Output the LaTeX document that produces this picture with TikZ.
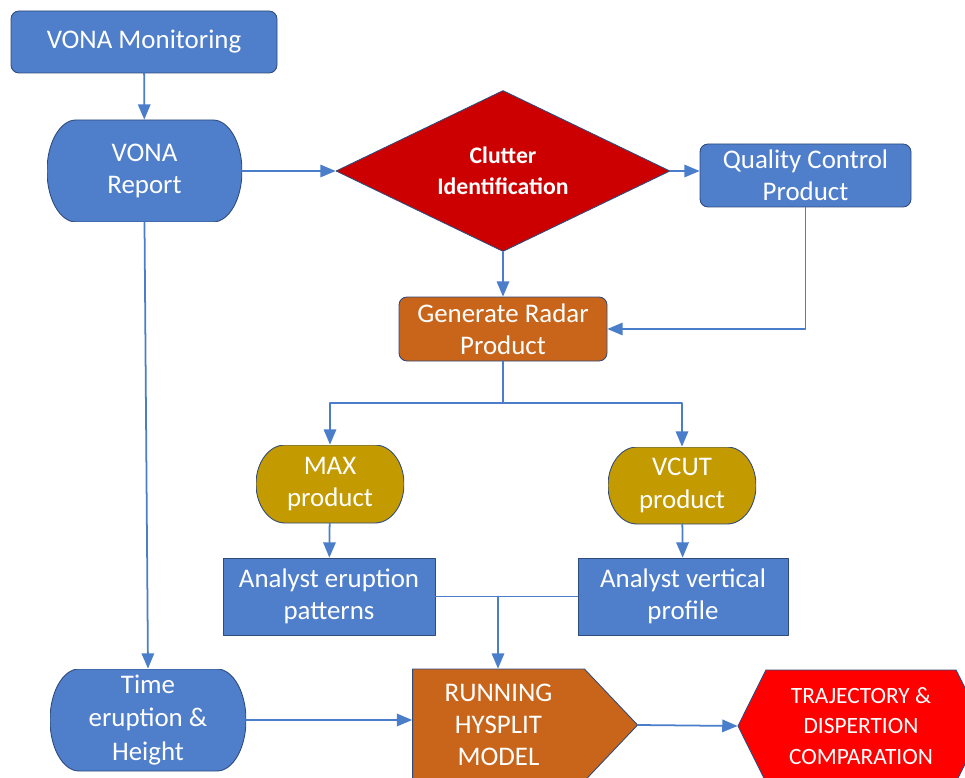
\documentclass[tikz,border=0pt]{standalone}
\usepackage{fontspec}
\setmainfont{Carlito}
\usetikzlibrary{arrows,calc,shapes.geometric,shapes.symbols}
\definecolor{boxblue}{HTML}{4F7ECB}
\definecolor{boxorange}{HTML}{C8651A}
\definecolor{boxgold}{HTML}{C39A00}
\definecolor{diamred}{HTML}{CC0000}
\definecolor{hexred}{HTML}{FF0000}
\definecolor{edgeline}{HTML}{2F4B7C}
\definecolor{flowline}{HTML}{4A7DCA}
\newcommand{\boxfont}{\fontsize{15.3}{18.4}\selectfont}
\tikzset{
  shapebase/.style={draw=edgeline, line width=0.5pt, text=white, align=center, font=\boxfont, inner sep=0pt},
  roundbox/.style={shapebase, rectangle, rounded corners=0.16cm, fill=#1},
  plainbox/.style={shapebase, rectangle, fill=#1},
  % rectangle with elliptical ends, drawn inside the node path
  pillbox/.style={shapebase, rectangle, draw=none, path picture={
      \path (path picture bounding box.north west) coordinate (nw)
            (path picture bounding box.north east) coordinate (ne)
            (path picture bounding box.south east) coordinate (se)
            (path picture bounding box.south west) coordinate (sw)
            (path picture bounding box.west) coordinate (w)
            (path picture bounding box.east) coordinate (e);
      \draw[draw=edgeline, line width=0.5pt, fill=#1]
        ($(nw)+(0.58,0)$) -- ($(ne)+(-0.58,0)$)
        .. controls ($(ne)+(-0.26,0)$) and ($(e)!0.55!(ne)$) .. (e)
        .. controls ($(e)!0.55!(se)$) and ($(se)+(-0.26,0)$) .. ($(se)+(-0.58,0)$)
        -- ($(sw)+(0.58,0)$)
        .. controls ($(sw)+(0.26,0)$) and ($(w)!0.55!(sw)$) .. (w)
        .. controls ($(w)!0.55!(nw)$) and ($(nw)+(0.26,0)$) .. cycle;
    }},
  flow/.style={->, draw=flowline, line width=1pt}
}

\begin{document}
\begin{tikzpicture}[line cap=round,line join=round,>=triangle 45,x=1cm,y=1cm]
    \useasboundingbox (0,0) rectangle (19.3,-15.56);
    \clip (0,0) rectangle (19.3,-15.56);

    % Nodes
    \node[roundbox=boxblue, minimum width=5.32cm, minimum height=1.24cm] (mon) at (2.88,-0.84) {VONA Monitoring};
    \node[pillbox=boxblue, minimum width=3.9cm, minimum height=2.04cm] (rep) at (2.89,-3.42) {VONA\\Report};
    \node[shapebase, diamond, aspect=2, fill=diamred, minimum width=6.68cm, minimum height=3.22cm,
          font=\fontsize{13.5}{17.5}\selectfont\bfseries] (clut) at (10.06,-3.42) {Clutter\\Identification};
    \node[roundbox=boxblue, minimum width=4.22cm, minimum height=1.26cm] (qc) at (16.11,-3.51) {Quality Control\\Product};
    \node[roundbox=boxorange, minimum width=4.16cm, minimum height=1.28cm] (grp) at (10.06,-6.58) {Generate Radar\\Product};
    \node[pillbox=boxgold, minimum width=2.96cm, minimum height=1.56cm] (max) at (6.6,-9.68) {MAX\\product};
    \node[pillbox=boxgold, minimum width=2.96cm, minimum height=1.54cm] (vcut) at (13.64,-9.71) {VCUT\\product};
    \node[plainbox=boxblue, minimum width=4.24cm, minimum height=1.54cm] (aep) at (6.58,-11.93) {Analyst eruption\\patterns};
    \node[plainbox=boxblue, minimum width=4.2cm, minimum height=1.54cm] (avp) at (13.66,-11.93) {Analyst vertical\\profile};
    \node[pillbox=boxblue, minimum width=3.92cm, minimum height=2.04cm, font=\fontsize{15.3}{19}\selectfont] (time) at (2.96,-14.4) {Time\\eruption \&\\Height};
    \node[shapebase, signal, signal to=east, signal pointer angle=93, fill=boxorange,
          minimum width=4.5cm, minimum height=2.24cm] (run) at (9.97,-14.5) {RUNNING\\HYSPLIT\\MODEL};
    \node[shapebase, signal, signal to=west and east, signal pointer angle=127, fill=hexred,
          minimum width=4.92cm, minimum height=2.24cm, font=\fontsize{13.3}{17.2}\selectfont] (traj) at (17.22,-14.52) {TRAJECTORY \&\\DISPERTION\\COMPARATION};

    % Edges
    \draw[flow] (mon) -- (rep);
    \draw[flow] (rep.east) -- (clut.west);
    \draw[flow] (clut.east) -- (clut.east -| qc.west);
    \draw[flow] (clut) -- (grp);
    \draw[flow] (qc.south) |- (grp.east);
    \coordinate (fork) at (10.06,-8.06);
    \draw[flowline, line width=1pt] (grp.south) -- (fork);
    \foreach \target in {max, vcut} {
            \draw[flow] (fork) -| (\target.north);
        }
    \draw[flow] (max) -- (aep);
    \draw[flow] (vcut) -- (avp);
    \coordinate (join) at (9.96,-11.93);
    \draw[flowline, line width=1pt] (aep.east) -- (avp.west);
    \draw[flow] (join) -- (join |- run.north);
    \draw[flow] (rep.south) -- (time.north);
    \draw[flow] (time.east) -- (time.east -| run.west);
    \draw[flow] (run.east) -- (traj.west);
\end{tikzpicture}
\end{document}
